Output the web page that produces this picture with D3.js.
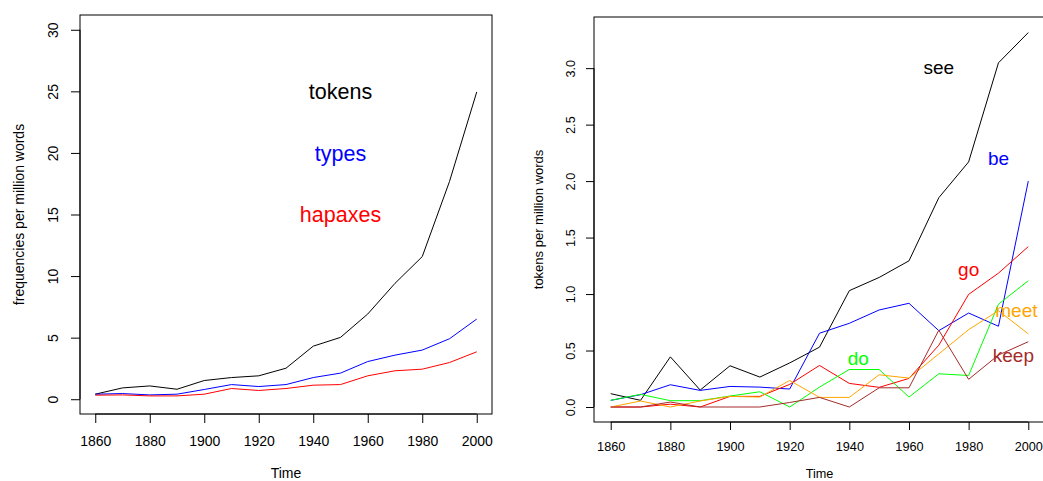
<!DOCTYPE html>
<html>
<head>
<meta charset="utf-8">
<script src="https://cdn.jsdelivr.net/npm/d3@7"></script>
<style>
  body { margin: 0; background: #fff; }
  text { font-family: "Liberation Sans", Arial, sans-serif; }
</style>
</head>
<body>
<div id="top"></div>
<script>
var years = [1860, 1870, 1880, 1890, 1900, 1910, 1920, 1930, 1940, 1950, 1960, 1970, 1980, 1990, 2000];
var xTicks = [1860, 1880, 1900, 1920, 1940, 1960, 1980, 2000];

// left panel
var tokens  = [0.41, 0.92, 1.08, 0.81, 1.52, 1.76, 1.90, 2.52, 4.31, 5.02, 6.92, 9.41, 11.58, 17.68, 24.95];
var types   = [0.41, 0.46, 0.35, 0.41, 0.79, 1.19, 1.03, 1.19, 1.76, 2.12, 3.06, 3.58, 3.99, 4.91, 6.51];
var hapaxes = [0.33, 0.35, 0.27, 0.27, 0.41, 0.87, 0.71, 0.87, 1.14, 1.19, 1.90, 2.31, 2.44, 2.98, 3.85];
var leftTicks = [0, 5, 10, 15, 20, 25, 30];

// right panel
var see  = [0.118, 0.059, 0.444, 0.15, 0.365, 0.265, 0.39, 0.53, 1.03, 1.147, 1.294, 1.853, 2.17, 3.047, 3.315];
var be   = [0.059, 0.109, 0.197, 0.147, 0.182, 0.176, 0.159, 0.653, 0.741, 0.859, 0.918, 0.676, 0.832, 0.715, 2.0];
var go   = [0, 0, 0.025, 0, 0.094, 0.094, 0.2, 0.368, 0.209, 0.174, 0.253, 0.547, 0.997, 1.185, 1.42];
var doV  = [0.059, 0.112, 0.056, 0.056, 0.097, 0.135, 0, 0.176, 0.332, 0.332, 0.088, 0.294, 0.279, 0.91, 1.118];
var meet = [0, 0.053, 0, 0.053, 0.094, 0.088, 0.235, 0.085, 0.085, 0.285, 0.256, 0.47, 0.685, 0.853, 0.647];
var keep = [0, 0, 0.044, 0, 0, 0, 0.04, 0.085, 0, 0.17, 0.17, 0.68, 0.245, 0.46, 0.578];
var rightTicks = [0, 0.5, 1, 1.5, 2, 2.5, 3];

var svg = d3.select('#top').append('svg').attr('width', 1043).attr('height', 481);

// R style 4% padding on the data range
function pad(lo, hi) { var d = (hi - lo) * 0.04; return [lo - d, hi + d]; }

function panel(opt) {
  var x = d3.scaleLinear().domain(pad(1860, 2000)).range([opt.left, opt.right]);
  var y = d3.scaleLinear().domain(pad(opt.ymin, opt.ymax)).range([opt.bottom, opt.top]);
  var g = svg.append('g');

  g.append('rect')
    .attr('x', opt.left).attr('y', opt.top)
    .attr('width', opt.right - opt.left).attr('height', opt.bottom - opt.top)
    .attr('fill', 'none').attr('stroke', '#000').attr('stroke-width', 1);

  var line = d3.line().x(function(d, i) { return x(years[i]); }).y(function(d) { return y(d); });
  opt.series.forEach(function(s) {
    g.append('path').datum(s.values)
      .attr('d', line).attr('fill', 'none')
      .attr('stroke', s.color).attr('stroke-width', 1);
  });

  var xa = g.append('g').attr('transform', 'translate(0,' + opt.bottom + ')')
    .call(d3.axisBottom(x).tickValues(xTicks).tickSize(opt.tick).tickSizeOuter(0).tickPadding(0).tickFormat(d3.format('d')));
  xa.select('.domain').attr('d', 'M' + x(1860) + ',0H' + x(2000));
  xa.selectAll('text').attr('y', opt.xlabY - opt.bottom).attr('dy', 0)
    .attr('font-size', opt.fs).attr('fill', '#000');

  var ya = g.append('g').attr('transform', 'translate(' + opt.left + ',0)')
    .call(d3.axisLeft(y).tickValues(opt.ticks).tickSize(opt.tick).tickSizeOuter(0).tickFormat(opt.fmt));
  ya.select('.domain').attr('d', 'M0,' + y(opt.ticks[0]) + 'V' + y(opt.ticks[opt.ticks.length - 1]));
  ya.selectAll('text')
    .attr('x', 0).attr('y', opt.ylabX - opt.left).attr('dy', '0.35em')
    .attr('transform', 'rotate(-90)').attr('text-anchor', 'middle')
    .attr('font-size', opt.fs).attr('fill', '#000');

  g.selectAll('.tick line').attr('stroke', '#000');

  g.append('text').attr('x', (opt.left + opt.right) / 2).attr('y', opt.timeY)
    .attr('text-anchor', 'middle').attr('font-size', opt.fs).text('Time');

  g.append('text')
    .attr('transform', 'translate(' + opt.titleX + ',' + (opt.top + opt.bottom) / 2 + ') rotate(-90)')
    .attr('text-anchor', 'middle').attr('font-size', opt.titleFs).text(opt.title);

  opt.labels.forEach(function(l) {
    g.append('text').attr('x', x(l.x)).attr('y', y(l.y)).attr('dy', '0.36em')
      .attr('text-anchor', 'middle').attr('font-size', opt.labelFs)
      .attr('fill', l.color).text(l.text);
  });
}

panel({
  left: 80, right: 492, top: 15, bottom: 414,
  ymin: 0, ymax: 30, ticks: leftTicks, fmt: d3.format('d'),
  tick: 9, fs: 14, labelFs: 21.5, titleFs: 14,
  xlabY: 446, ylabX: 53.5, timeY: 478, titleX: 23.5,
  title: 'frequencies per million words',
  series: [
    { values: tokens, color: '#000000' },
    { values: types, color: '#0000ff' },
    { values: hapaxes, color: '#ff0000' }
  ],
  labels: [
    { text: 'tokens', x: 1950, y: 25, color: '#000000' },
    { text: 'types', x: 1950, y: 20, color: '#0000ff' },
    { text: 'hapaxes', x: 1950, y: 15, color: '#ff0000' }
  ]
});

panel({
  left: 594, right: 1045, top: 17, bottom: 422,
  ymin: 0, ymax: 3.32, ticks: rightTicks, fmt: d3.format('.1f'),
  tick: 8, fs: 12.7, labelFs: 19, titleFs: 13,
  xlabY: 451, ylabX: 571, timeY: 478, titleX: 543,
  title: 'tokens per million words',
  series: [
    { values: see, color: '#000000' },
    { values: be, color: '#0000ff' },
    { values: go, color: '#ff0000' },
    { values: doV, color: '#00ff00' },
    { values: meet, color: '#ffa500' },
    { values: keep, color: '#a52a2a' }
  ],
  labels: [
    { text: 'see', x: 1970, y: 3.01, color: '#000000' },
    { text: 'be', x: 1990, y: 2.2, color: '#0000ff' },
    { text: 'go', x: 1980, y: 1.22, color: '#ff0000' },
    { text: 'do', x: 1943, y: 0.43, color: '#00ff00' },
    { text: 'meet', x: 1996, y: 0.86, color: '#ffa500' },
    { text: 'keep', x: 1995, y: 0.46, color: '#a52a2a' }
  ]
});
</script>
</body>
</html>
